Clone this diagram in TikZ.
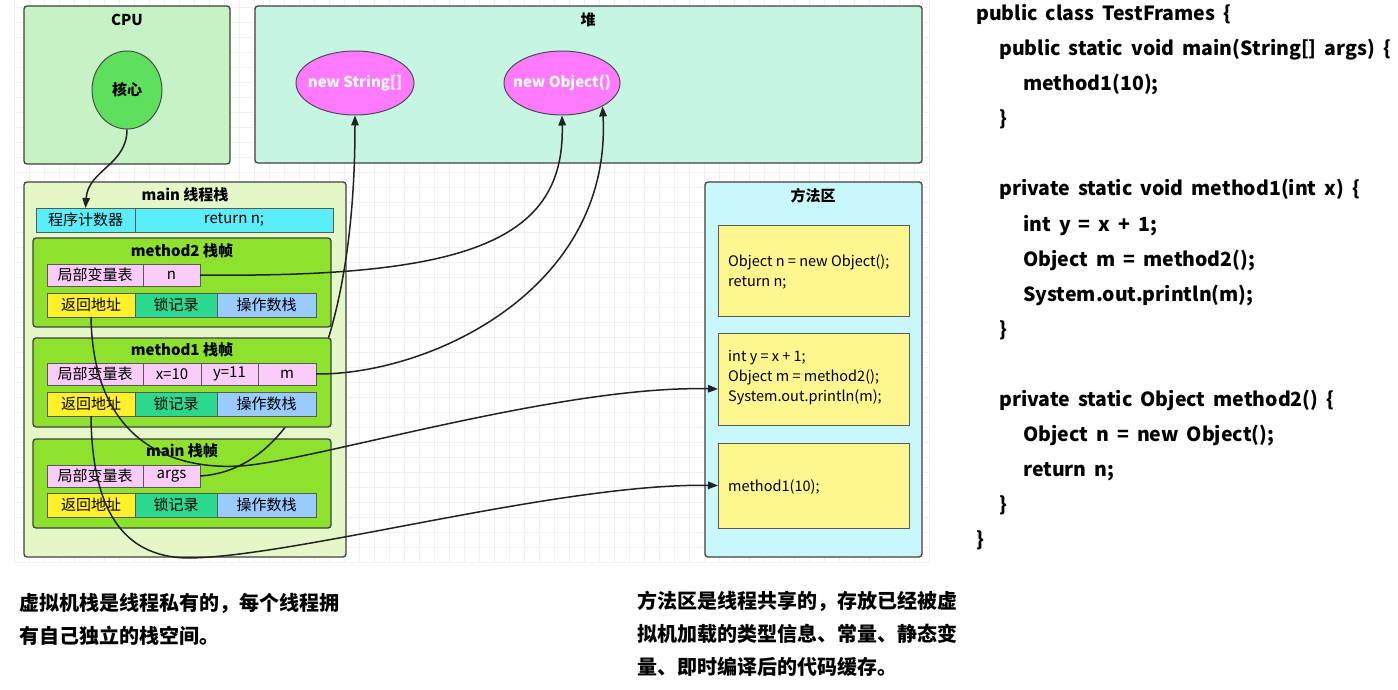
\documentclass[tikz,border=0pt]{standalone}
\usepackage{fontspec}
\setmainfont{Noto Sans CJK SC}
\newfontfamily\codefont{Noto Sans CJK SC}[WordSpace=1.8]
\usetikzlibrary{shapes.geometric,arrows.meta}
\definecolor{cpuG}{HTML}{C6F2C6}
\definecolor{heapG}{HTML}{C6F5E2}
\definecolor{coreG}{HTML}{5EE05E}
\definecolor{objP}{HTML}{FF7AFF}
\definecolor{stackG}{HTML}{E3F7C9}
\definecolor{frameG}{HTML}{8EE22E}
\definecolor{pcC}{HTML}{5AEEFA}
\definecolor{pinkC}{HTML}{FACCFA}
\definecolor{yelC}{HTML}{FFF02A}
\definecolor{lockG}{HTML}{2AD98E}
\definecolor{opB}{HTML}{9ACBFF}
\definecolor{methC}{HTML}{C8F8FC}
\definecolor{codeY}{HTML}{FFF68F}
\definecolor{edgeK}{HTML}{222222}
\definecolor{gridL}{HTML}{F0F0F0}
\tikzset{
  area/.style={draw=black!75, line width=1.3pt, rounded corners=3pt, anchor=north west, inner sep=0pt, outer sep=0pt},
  frame/.style={area, fill=frameG, minimum width=298pt, minimum height=89pt},
  cell/.style={draw=black!65, line width=1pt, anchor=north west, inner sep=0pt, outer sep=0pt, font=\fontsize{15}{18}\selectfont},
  lvcell/.style={cell, fill=pinkC, minimum height=22pt},
  rtcell/.style={cell, minimum height=24pt},
  ttl/.style={font=\bfseries\fontsize{15}{18}\selectfont},
  objtxt/.style={text=white, font=\bfseries\fontsize{15}{18}\selectfont},
  blob/.style={ellipse, draw=black!70, line width=1pt, inner sep=0pt},
  conn/.style={draw=edgeK, line width=1.5pt, -{Triangle[length=10pt,width=7.5pt]}},
  codeln/.style={anchor=west, inner sep=0pt, text height=14pt, text depth=4pt, font=\codefont\bfseries\fontsize{19.5}{22}\selectfont},
  boxtxt/.style={anchor=west, inner sep=0pt, align=left, font=\fontsize{14.5}{20}\selectfont},
  note/.style={anchor=west, inner sep=0pt, align=left, font=\bfseries\fontsize{20}{33}\selectfont}
}
\begin{document}
\begin{tikzpicture}[x=1pt,y=-1pt]
\useasboundingbox[fill=white] (0,0) rectangle (1398,690);
% grid
\foreach \gx in {14,29,...,929} \draw[gridL, line width=0.6pt] (\gx,0) -- (\gx,562);
\foreach \gy in {7,22,...,562} \draw[gridL, line width=0.6pt] (14,\gy) -- (930,\gy);

% CPU
\node[area, fill=cpuG, minimum width=206pt, minimum height=158pt] (cpu) at (24,6) {};
\node[ttl] (cputtl) at (127,20) {CPU};
\node[blob, fill=coreG, minimum width=70pt, minimum height=78pt] (core) at (127,90) {};
\node[ttl] (coretxt) at (127,90) {核心};

% heap
\node[area, fill=heapG, minimum width=667pt, minimum height=157pt] (heap) at (255,6) {};
\node[ttl] (heapttl) at (588,20) {堆};
\node[blob, fill=objP, minimum width=118pt, minimum height=64pt] (ns) at (355,83) {};
\node[objtxt] (nstxt) at (355,83) {new String[]};
\node[blob, fill=objP, minimum width=116pt, minimum height=64pt] (no) at (562,83) {};
\node[objtxt] (notxt) at (562,83) {new Object()};

% thread stack
\node[area, fill=stackG, minimum width=322pt, minimum height=375pt] (stack) at (24,182) {};
\node[ttl] (stackttl) at (185,195) {main 线程栈};
\node[cell, fill=pcC, minimum width=99pt, minimum height=24pt] (pc) at (36,208) {程序计数器};
\node[cell, fill=pcC, minimum width=198pt, minimum height=24pt] (pcv) at (135,208) {return n;};

% method2 frame
\node[frame] (f2) at (33,238) {};
\node[ttl] (f2ttl) at (182,251) {method2 栈帧};
\node[lvcell, minimum width=96pt] (m2lv) at (47,264) {局部变量表};
\node[lvcell, minimum width=57pt] (m2n) at (143,264) {n};
\node[rtcell, fill=yelC, minimum width=88pt] (m2ret) at (47,293) {返回地址};
\node[rtcell, fill=lockG, minimum width=82pt] (m2lock) at (135,293) {锁记录};
\node[rtcell, fill=opB, minimum width=99pt] (m2op) at (217,293) {操作数栈};

% main frame
\node[frame] (f0) at (33,439) {};
\node[ttl] (f0ttl) at (182,451) {main 栈帧};
\node[lvcell, minimum width=96pt] (m0lv) at (47,465) {局部变量表};
\node[lvcell, minimum width=57pt] (m0args) at (143,465) {args};
\node[rtcell, fill=yelC, minimum width=88pt] (m0ret) at (47,493) {返回地址};
\node[rtcell, fill=lockG, minimum width=82pt] (m0lock) at (135,493) {锁记录};
\node[rtcell, fill=opB, minimum width=99pt] (m0op) at (217,493) {操作数栈};

% args -> new String[] (passes behind method1 frame)
\draw[conn] (m0args.east) .. controls (300,470) and (355,330) .. (ns.south);

% method1 frame
\node[frame] (f1) at (33,338) {};
\node[ttl] (f1ttl) at (182,350) {method1 栈帧};
\node[lvcell, minimum width=96pt] (m1lv) at (47,363) {局部变量表};
\node[lvcell, minimum width=58pt] (m1x) at (143,363) {x=10};
\node[lvcell, minimum width=57pt] (m1y) at (201,363) {y=11};
\node[lvcell, minimum width=58pt] (m1m) at (258,363) {m};
\node[rtcell, fill=yelC, minimum width=88pt] (m1ret) at (47,392) {返回地址};
\node[rtcell, fill=lockG, minimum width=82pt] (m1lock) at (135,392) {锁记录};
\node[rtcell, fill=opB, minimum width=99pt] (m1op) at (217,392) {操作数栈};

% method area
\node[area, fill=methC, minimum width=217pt, minimum height=375pt] (ma) at (705,182) {};
\node[ttl] (mattl) at (813,196) {方法区};
\node[cell, fill=codeY, minimum width=191pt, minimum height=91pt] (code1) at (718,225) {};
\node[cell, fill=codeY, minimum width=191pt, minimum height=92pt] (code2) at (718,333) {};
\node[cell, fill=codeY, minimum width=191pt, minimum height=85pt] (code3) at (718,443) {};
\node[boxtxt] (code1t) at (728,272) {Object n = new Object();\\return n;};
\node[boxtxt] (code2t) at (728,378) {int y = x + 1;\\Object m = method2();\\System.out.println(m);};
\node[boxtxt] (code3t) at (728,487) {method1(10);};

% connectors
\draw[conn] (core.south) .. controls (127,165) and (88,170) .. (pc.north);
\draw[conn] (m2n.east) .. controls (470,278) and (565,240) .. (no.south);
\draw[conn] (m1m.east) .. controls (430,375) and (612,290) .. (no.-30);
\draw[conn] (m2ret.south) .. controls (93,440) and (170,470) .. (240,466)
   .. controls (310,462) and (560,385) .. ([yshift=-10pt]code2.west);
\draw[conn] (m1ret.south) .. controls (92,520) and (130,558) .. (190,558)
   .. controls (300,556) and (560,483) .. (code3.west);

% source code
\node[codeln] (c1) at (976,16) {public class TestFrames \{};
\node[codeln] (c2) at (999,51) {public static void main(String[] args) \{};
\node[codeln] (c3) at (1023,86) {method1(10);};
\node[codeln] (c4) at (999,121) {\}};
\node[codeln] (c5) at (999,191) {private static void method1(int x) \{};
\node[codeln] (c6) at (1023,226) {int y = x + 1;};
\node[codeln] (c7) at (1023,261) {Object m = method2();};
\node[codeln] (c8) at (1023,296) {System.out.println(m);};
\node[codeln] (c9) at (999,331) {\}};
\node[codeln] (c10) at (999,401) {private static Object method2() \{};
\node[codeln] (c11) at (1023,436) {Object n = new Object();};
\node[codeln] (c12) at (1023,471) {return n;};
\node[codeln] (c13) at (999,506) {\}};
\node[codeln] (c14) at (976,541) {\}};

% notes
\node[note] (note1) at (19,619) {虚拟机栈是线程私有的，每个线程拥\\有自己独立的栈空间。};
\node[note] (note2) at (637,634) {方法区是线程共享的，存放已经被虚\\拟机加载的类型信息、常量、静态变\\量、即时编译后的代码缓存。};
\end{tikzpicture}
\end{document}
